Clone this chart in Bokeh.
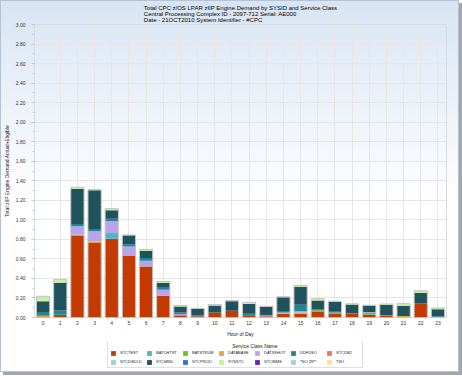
from bokeh.plotting import figure
from bokeh.layouts import column
from bokeh.models import (ColumnDataSource, Legend, LegendItem, FactorRange,
                          Range1d, SingleIntervalTicker, NumeralTickFormatter)
from bokeh.embed import file_html
from bokeh.resources import INLINE

hours = [str(h) for h in range(24)]

STCTEST = [.005, .028, .838, .762, .807, .629, .523, .222, .015, .012, .05, .07,
           .024, .012, .038, .038, .062, .038, .04, .027, .015, .005, .147, .008]
BATCHTST = [0, 0, .01, 0, .058, 0, 0, 0, .01, 0, 0, 0,
            0, 0, 0, 0, 0, 0, 0, 0, 0, 0, 0, 0]
BATSTRUM = [0, 0, 0, 0, 0, 0, 0, 0, 0, 0, 0, 0,
            0, 0, 0, 0, .012, .012, 0, .02, .008, 0, 0, 0]
DATABASE = [.012, 0, 0, .015, 0, 0, 0, 0, 0, 0, 0, 0,
            0, 0, 0, .012, 0, 0, 0, 0, 0, .01, 0, 0]
DATSSHOT = [0, 0, .086, .105, .123, .099, .058, .062, .012, 0, 0, 0,
            0, .008, .012, .015, 0, 0, 0, .01, 0, 0, 0, 0]
DDFDSO = [.04, .044, .024, .025, .024, .021, .027, .02, .015, .01, 0, 0,
          .014, .006, .008, .065, .01, .01, .004, 0, 0, 0, 0, .008]
STCDB2 = [0] * 24
STCDSDLD = [0] * 24
STCMND = [.11, .284, .36, .395, .085, .092, .072, .05, .06, .068, .072, .094,
          .1, .085, .15, .185, .09, .102, .09, .065, .108, .105, .104, .068]
STCPROD = [0] * 24
SYSSTC = [.05, .034, .016, .008, .018, .004, .017, .014, .01, .005, .01, 0,
          .017, .004, .005, .013, .017, .005, .006, .003, .007, .022, .016, .014]
STCIBMS = [0, 0, 0, 0, 0, 0, 0, 0, 0, 0, 0, .008,
           0, 0, 0, 0, 0, 0, 0, 0, 0, 0, 0, 0]
NOZIP = [0, 0, 0, 0, 0, 0, 0, 0, 0, 0, 0, 0,
         0, 0, 0, 0, 0, 0, 0, 0, 0, 0, .006, 0]
TSO = [0] * 24

names = ["STCTEST", "BATCHTST", "BATSTRUM", "DATABASE", "DATSSHOT", "DDFDSO", "STCDB2",
         "STCDSDLD", "STCMND", "STCPROD", "SYSSTC", "STCIBMS", "*NO ZIP*", "TSO"]
values = [STCTEST, BATCHTST, BATSTRUM, DATABASE, DATSSHOT, DDFDSO, STCDB2,
          STCDSDLD, STCMND, STCPROD, SYSSTC, STCIBMS, NOZIP, TSO]
colors = ["#c43b02", "#4fb6c8", "#6cbf2e", "#e9a23b", "#b9a4ec", "#1d8796", "#f2734f",
          "#a3cdd6", "#1f525c", "#2f6fdb", "#c7f0a0", "#6f1fb5", "#a5cfd9", "#f8e0a6"]

title_lines = ["Total CPC z/OS LPAR zIIP Engine Demand by SYSID and Service Class",
               "Central Processing Complex ID - 2097-712 Serial: AE000",
               "Date - 21OCT2010 System Identifier - #CPC"]

FONT = "Liberation Sans"

keys = ["s%d" % i for i in range(len(names))]
data = {"hour": hours}
for k, v in zip(keys, values):
    data[k] = v
data["total"] = [sum(col) for col in zip(*values)]
src = ColumnDataSource(data)

p = figure(x_range=FactorRange(*hours), y_range=Range1d(0, 3.0),
           width=459, height=342, output_backend="svg", toolbar_location=None,
           min_border_left=28, min_border_right=13, min_border_top=24, min_border_bottom=25)
p.border_fill_color = None
p.background_fill_color = None
p.outline_line_color = "#d6dce4"

p.title.text = "\n".join(title_lines)
p.title.align = "center"
p.title.text_font = FONT
p.title.text_font_size = "6px"
p.title.text_font_style = "normal"
p.title.text_color = "#000000"
p.title.text_line_height = 1.05
p.title.standoff = 2
p.title.offset = 0

rends = p.vbar_stack(keys, x="hour", width=0.77, color=colors, line_color=None, source=src)
p.vbar(x="hour", top="total", width=0.77, fill_color=None, line_color="#c4c4c4",
       line_width=1, source=src)

p.xgrid.grid_line_color = "#e6e6e6"
p.ygrid.grid_line_color = "#e6e6e6"

p.yaxis.ticker = SingleIntervalTicker(interval=0.2, num_minor_ticks=2)
p.yaxis.formatter = NumeralTickFormatter(format="0.00")
for ax in (p.xaxis[0], p.yaxis[0]):
    ax.axis_line_color = None
    ax.major_tick_line_color = "#c8c8c8"
    ax.minor_tick_line_color = "#c8c8c8"
    ax.major_tick_out = 3
    ax.major_tick_in = 0
    ax.minor_tick_out = 2
    ax.minor_tick_in = 0
    ax.major_label_text_font = FONT
    ax.major_label_text_font_size = "5px"
    ax.major_label_text_color = "#333333"
    ax.axis_label_text_font = FONT
    ax.axis_label_text_font_size = "5px"
    ax.axis_label_text_font_style = "normal"
    ax.axis_label_text_color = "#222222"
p.yaxis.major_label_standoff = 6
p.yaxis.axis_label = "Total zIIP Engine Demand Actual+Eligible"
p.yaxis.axis_label_standoff = 3
p.xaxis.major_label_standoff = 3
p.xaxis.axis_label = "Hour of Day"
p.xaxis.axis_label_standoff = 3
p.xaxis.major_tick_line_color = None
p.xaxis.major_tick_out = 0

# legend strip: a small figure whose stacked bars lie far outside its view, holding the legend
lg = figure(width=459, height=30, output_backend="svg", toolbar_location=None,
            x_axis_location=None, y_axis_location=None,
            min_border_left=0, min_border_right=0, min_border_top=0, min_border_bottom=0,
            x_range=FactorRange(*hours), y_range=Range1d(100, 101))
lg.border_fill_color = None
lg.background_fill_color = None
lg.outline_line_color = None
lg.xgrid.visible = False
lg.ygrid.visible = False
swatches = lg.vbar_stack(keys, x="hour", width=0.77, color=colors, line_color=None,
                         source=src)

items = [LegendItem(label=n, renderers=[r]) for n, r in zip(names, swatches)]
legend_title = "\u00a0" * 88 + "Service Class Name"
legend = Legend(items=items, location=(73, 4), orientation="horizontal", ncols=7,
                padding=2, spacing=2, margin=0, glyph_width=6, glyph_height=6,
                label_standoff=4, label_text_font=FONT, label_text_font_size="4px",
                label_text_color="#222222", label_width=24, label_height=7,
                title=legend_title, title_text_font=FONT, title_text_font_size="5px",
                title_text_font_style="normal", title_text_color="#222222",
                title_standoff=0,
                border_line_color="#b8c4d0", background_fill_color="#ffffff",
                background_fill_alpha=1.0)
lg.add_layout(legend, "center")

layout = column(p, lg, spacing=0, width=459, height=372,
                styles={"background": "linear-gradient(#d8e4f3 0%, #ffffff 55%)",
                        "box-shadow": "3px 3px 0 #a3a8ae",
                        "outline": "1px solid #b4c2d2", "outline-offset": "-1px"})

open("out.html", "w").write(file_html(layout, INLINE))
